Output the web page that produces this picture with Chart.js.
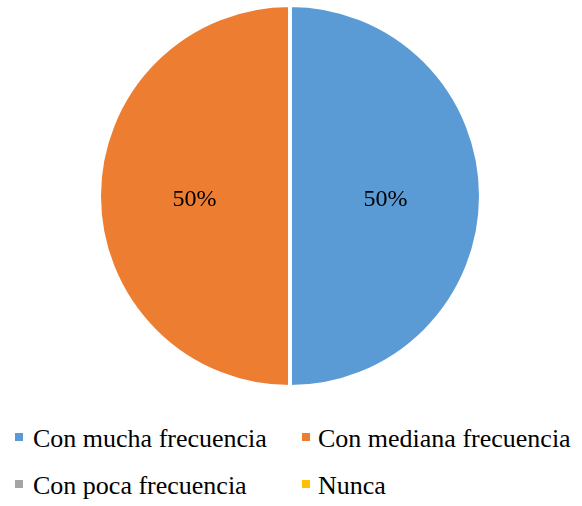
<!DOCTYPE html>
<html>
<head>
<meta charset="utf-8">
<script src="https://cdn.jsdelivr.net/npm/chart.js@4"></script>
</head>
<body style="margin:0;padding:0;background:#fff">
<div id="wrap" style="position:relative;width:582px;height:506px;overflow:hidden">
  <div id="box" style="position:absolute;left:0;top:0;width:582px;height:392px"><canvas id="c"></canvas></div>
  <div id="legend"></div>
</div>
<script>
const categories = ["Con mucha frecuencia", "Con mediana frecuencia", "Con poca frecuencia", "Nunca"];
const values = [50, 50, 0, 0];
const percentLabels = ["50%", "50%", "", ""];
const colors = ["#5B9BD5", "#ED7D31", "#A5A5A5", "#FFC000"];
const FONT = '"Liberation Serif", "Times New Roman", serif';

const labelPlugin = {
  id: 'sliceLabels',
  afterDatasetsDraw(chart) {
    const ctx = chart.ctx;
    const meta = chart.getDatasetMeta(0);
    ctx.save();
    ctx.font = '24px ' + FONT;
    ctx.fillStyle = '#000';
    ctx.textAlign = 'center';
    ctx.textBaseline = 'alphabetic';
    meta.data.forEach((arc, i) => {
      if (!values[i]) return;
      const p = arc.getProps(['x','y','startAngle','endAngle','outerRadius'], true);
      const mid = (p.startAngle + p.endAngle) / 2;
      const r = p.outerRadius * 0.5;
      ctx.fillText(percentLabels[i], p.x + Math.cos(mid) * r, p.y + Math.sin(mid) * r + 10);
    });
    ctx.restore();
  }
};

new Chart(document.getElementById('c'), {
  type: 'pie',
  data: {
    labels: categories,
    datasets: [{
      data: values,
      backgroundColor: colors,
      borderColor: '#ffffff',
      borderWidth: 4
    }]
  },
  options: {
    responsive: true,
    maintainAspectRatio: false,
    animation: false,
    layout: { padding: { top: 3, bottom: 3, left: 0, right: 2 } },
    plugins: { legend: { display: false }, tooltip: { enabled: false } }
  },
  plugins: [labelPlugin]
});

const legendPos = [
  { sx: 15, tx: 33, base: 447 },
  { sx: 302, tx: 318, base: 447 },
  { sx: 15, tx: 33, base: 494 },
  { sx: 302, tx: 318, base: 494 }
];
const lg = document.getElementById('legend');
categories.forEach((name, i) => {
  const p = legendPos[i];
  const sq = document.createElement('div');
  sq.style.position = 'absolute';
  sq.style.width = '8px';
  sq.style.height = '8px';
  sq.style.left = p.sx + 'px';
  sq.style.top = (p.base - 14) + 'px';
  sq.style.background = colors[i];
  lg.appendChild(sq);
  const t = document.createElement('div');
  t.style.position = 'absolute';
  t.style.fontFamily = FONT;
  t.style.fontSize = '26px';
  t.style.lineHeight = '30px';
  t.style.whiteSpace = 'nowrap';
  t.style.color = '#000';
  t.style.left = p.tx + 'px';
  t.style.top = (p.base - 23) + 'px';
  t.textContent = name;
  lg.appendChild(t);
});
</script>
</body>
</html>
